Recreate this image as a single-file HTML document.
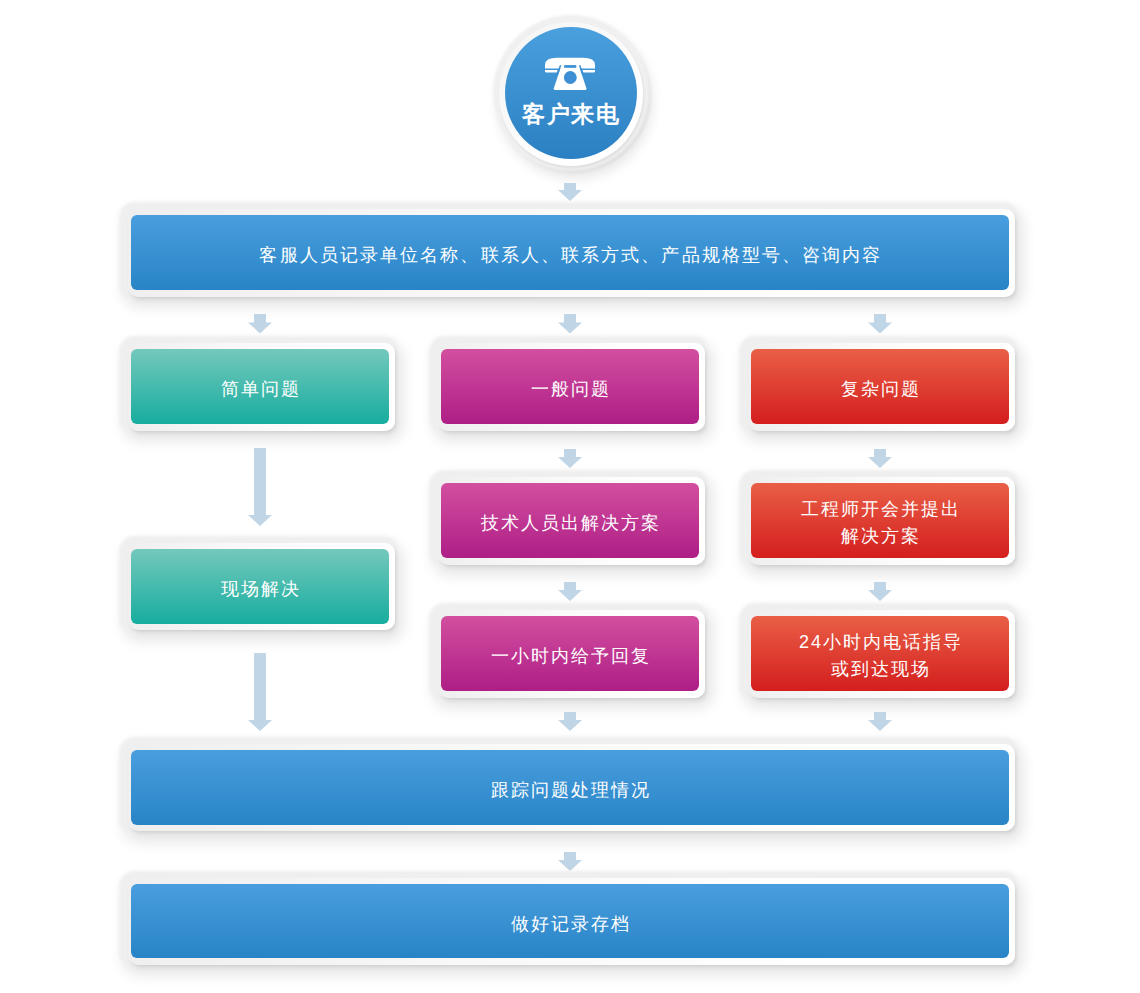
<!DOCTYPE html>
<html><head><meta charset="utf-8"><style>
html,body{margin:0;padding:0;background:#fff;}
body{width:1140px;height:993px;position:relative;overflow:hidden;font-family:"Liberation Sans",sans-serif;}
.halo{position:absolute;border-radius:15px;background:#efefef;box-shadow:4px 7px 14px rgba(0,0,0,0.10);filter:blur(1.6px);}
.ring{position:absolute;border-radius:10px;box-shadow:2px 3px 4px -1px rgba(0,0,0,0.15);background:linear-gradient(to right,rgba(255,255,255,0) 0%,rgba(255,255,255,0.6) 40%,#fff 80%);}
.box{position:absolute;border-radius:6px;display:flex;align-items:center;justify-content:center;text-align:center;color:#fff;}
.box span{display:block;line-height:27.5px;}
.arr{position:absolute;}
.chalo{position:absolute;left:492.5px;top:14.5px;width:156px;height:156px;border-radius:50%;background:#f0f0f0;box-shadow:2px 2px 3px rgba(0,0,0,0.07),4px 8px 12px rgba(0,0,0,0.09);filter:blur(1px);}
.cring{position:absolute;left:499px;top:22px;width:144px;height:144px;border-radius:50%;background:linear-gradient(135deg,rgba(255,255,255,0.3) 0%,rgba(255,255,255,0.6) 40%,#fff 70%);box-shadow:1px 2px 3px rgba(0,0,0,0.08);}
.circ{position:absolute;left:504.7px;top:27px;width:132px;height:132px;border-radius:50%;background:linear-gradient(to bottom,#4a9fdd,#2b80c3);}
.phone{position:absolute;}
.ctext{position:absolute;left:500px;top:99.5px;width:142px;text-align:center;color:#fff;font-weight:bold;font-size:23px;letter-spacing:1.5px;line-height:28px;}
</style></head><body>
<div class="chalo"></div><div class="cring"></div><div class="circ"></div>
<svg class="phone" style="left:540px;top:52px" width="60" height="42" viewBox="540 52 60 42">
<path d="M545,68.6 V65 Q545,57.8 557,57.8 H583 Q595,57.8 595,65 V68.6 Z" fill="#fff"/>
<path d="M545,69.9 H557.4 V71.3 Q557.4,72.4 556.3,72.4 H546.1 Q545,72.4 545,71.3 Z" fill="#fff"/>
<path d="M582.6,69.9 H595 V71.3 Q595,72.4 593.9,72.4 H583.7 Q582.6,72.4 582.6,71.3 Z" fill="#fff"/>
<path d="M561.6,64.9 H578.6 L586.4,88.2 Q587,90 585.2,90 H555 Q553.2,90 553.8,88.2 Z" fill="#fff"/>
<path d="M560.6,65.2 L557.2,74.5 M579.6,65.2 L583,74.5" stroke="#3b8fd2" stroke-width="1.5" fill="none"/>
<rect x="564.2" y="65.1" width="12.1" height="2.7" fill="#3b8fd2"/>
<circle cx="570.3" cy="77.5" r="6.4" fill="#3b8fd2"/>
</svg>
<div class="ctext">客户来电</div>
<svg class="arr" style="left:558.0px;top:183px" width="24" height="18" viewBox="0 0 24 18"><path d="M6.0,0 H18.0 V7 H24 L12.0,18 L0,7 H6.0 Z" fill="#c0d5e6"/></svg>
<div class="halo" style="left:119px;top:202px;width:900px;height:98px"></div>
<div class="ring" style="left:128px;top:209px;width:887px;height:87.5px"></div>
<div class="box" style="left:131px;top:215px;width:878px;height:75px;background:linear-gradient(to bottom,#499ede,#2884c6)"><span style="font-size:18px;letter-spacing:2.1px;margin-right:-2.1px;padding-top:7px">客服人员记录单位名称、联系人、联系方式、产品规格型号、咨询内容</span></div>
<svg class="arr" style="left:248.0px;top:313.5px" width="24" height="19.5" viewBox="0 0 24 19.5"><path d="M6.0,0 H18.0 V8.5 H24 L12.0,19.5 L0,8.5 H6.0 Z" fill="#c0d5e6"/></svg>
<svg class="arr" style="left:558.0px;top:313.5px" width="24" height="19.5" viewBox="0 0 24 19.5"><path d="M6.0,0 H18.0 V8.5 H24 L12.0,19.5 L0,8.5 H6.0 Z" fill="#c0d5e6"/></svg>
<svg class="arr" style="left:868.0px;top:313.5px" width="24" height="19.5" viewBox="0 0 24 19.5"><path d="M6.0,0 H18.0 V8.5 H24 L12.0,19.5 L0,8.5 H6.0 Z" fill="#c0d5e6"/></svg>
<div class="halo" style="left:119px;top:336px;width:280px;height:98px"></div>
<div class="ring" style="left:128px;top:343px;width:267px;height:87.5px"></div>
<div class="box" style="left:131px;top:349px;width:258px;height:75px;background:linear-gradient(to bottom,#74c8bc,#16ad9f)"><span style="font-size:18px;letter-spacing:2px;margin-right:-2px;padding-top:7px">简单问题</span></div>
<div class="halo" style="left:429px;top:336px;width:280px;height:98px"></div>
<div class="ring" style="left:438px;top:343px;width:267px;height:87.5px"></div>
<div class="box" style="left:441px;top:349px;width:258px;height:75px;background:linear-gradient(to bottom,#d24f9f,#ae1e86)"><span style="font-size:18px;letter-spacing:2px;margin-right:-2px;padding-top:7px">一般问题</span></div>
<div class="halo" style="left:739px;top:336px;width:280px;height:98px"></div>
<div class="ring" style="left:748px;top:343px;width:267px;height:87.5px"></div>
<div class="box" style="left:751px;top:349px;width:258px;height:75px;background:linear-gradient(to bottom,#e95f46,#d41e1e)"><span style="font-size:18px;letter-spacing:2px;margin-right:-2px;padding-top:7px">复杂问题</span></div>
<svg class="arr" style="left:248.0px;top:448px" width="24" height="78" viewBox="0 0 24 78"><path d="M6.0,0 H18.0 V67 H24 L12.0,78 L0,67 H6.0 Z" fill="#c0d5e6"/></svg>
<svg class="arr" style="left:558.0px;top:449px" width="24" height="19" viewBox="0 0 24 19"><path d="M6.0,0 H18.0 V8 H24 L12.0,19 L0,8 H6.0 Z" fill="#c0d5e6"/></svg>
<svg class="arr" style="left:868.0px;top:449px" width="24" height="19" viewBox="0 0 24 19"><path d="M6.0,0 H18.0 V8 H24 L12.0,19 L0,8 H6.0 Z" fill="#c0d5e6"/></svg>
<div class="halo" style="left:119px;top:535.6px;width:280px;height:98px"></div>
<div class="ring" style="left:128px;top:542.6px;width:267px;height:87.5px"></div>
<div class="box" style="left:131px;top:548.6px;width:258px;height:75px;background:linear-gradient(to bottom,#74c8bc,#16ad9f)"><span style="font-size:18px;letter-spacing:2px;margin-right:-2px;padding-top:7px">现场解决</span></div>
<div class="halo" style="left:429px;top:469.5px;width:280px;height:98.5px"></div>
<div class="ring" style="left:438px;top:476.5px;width:267px;height:88.0px"></div>
<div class="box" style="left:441px;top:482.5px;width:258px;height:75.5px;background:linear-gradient(to bottom,#d24f9f,#ae1e86)"><span style="font-size:18px;letter-spacing:2px;margin-right:-2px;padding-top:7px">技术人员出解决方案</span></div>
<div class="halo" style="left:739px;top:469.5px;width:280px;height:98.5px"></div>
<div class="ring" style="left:748px;top:476.5px;width:267px;height:88.0px"></div>
<div class="box" style="left:751px;top:482.5px;width:258px;height:75.5px;background:linear-gradient(to bottom,#e95f46,#d41e1e)"><span style="font-size:18px;letter-spacing:2px;margin-right:-2px;padding-top:5.5px">工程师开会并提出<br>解决方案</span></div>
<svg class="arr" style="left:558.0px;top:582px" width="24" height="19" viewBox="0 0 24 19"><path d="M6.0,0 H18.0 V8 H24 L12.0,19 L0,8 H6.0 Z" fill="#c0d5e6"/></svg>
<svg class="arr" style="left:868.0px;top:582px" width="24" height="19" viewBox="0 0 24 19"><path d="M6.0,0 H18.0 V8 H24 L12.0,19 L0,8 H6.0 Z" fill="#c0d5e6"/></svg>
<div class="halo" style="left:429px;top:603px;width:280px;height:98px"></div>
<div class="ring" style="left:438px;top:610px;width:267px;height:87.5px"></div>
<div class="box" style="left:441px;top:616px;width:258px;height:75px;background:linear-gradient(to bottom,#d24f9f,#ae1e86)"><span style="font-size:18px;letter-spacing:2px;margin-right:-2px;padding-top:7px">一小时内给予回复</span></div>
<div class="halo" style="left:739px;top:603px;width:280px;height:98px"></div>
<div class="ring" style="left:748px;top:610px;width:267px;height:87.5px"></div>
<div class="box" style="left:751px;top:616px;width:258px;height:75px;background:linear-gradient(to bottom,#e95f46,#d41e1e)"><span style="font-size:18px;letter-spacing:2px;margin-right:-2px;padding-top:5.5px">24小时内电话指导<br>或到达现场</span></div>
<svg class="arr" style="left:248.0px;top:653px" width="24" height="78" viewBox="0 0 24 78"><path d="M6.0,0 H18.0 V67 H24 L12.0,78 L0,67 H6.0 Z" fill="#c0d5e6"/></svg>
<svg class="arr" style="left:558.0px;top:712px" width="24" height="19" viewBox="0 0 24 19"><path d="M6.0,0 H18.0 V8 H24 L12.0,19 L0,8 H6.0 Z" fill="#c0d5e6"/></svg>
<svg class="arr" style="left:868.0px;top:712px" width="24" height="19" viewBox="0 0 24 19"><path d="M6.0,0 H18.0 V8 H24 L12.0,19 L0,8 H6.0 Z" fill="#c0d5e6"/></svg>
<div class="halo" style="left:119px;top:737px;width:900px;height:97.5px"></div>
<div class="ring" style="left:128px;top:744px;width:887px;height:87.0px"></div>
<div class="box" style="left:131px;top:750px;width:878px;height:74.5px;background:linear-gradient(to bottom,#499ede,#2884c6)"><span style="font-size:18px;letter-spacing:2px;margin-right:-2px;padding-top:7px">跟踪问题处理情况</span></div>
<svg class="arr" style="left:558.0px;top:851.7px" width="24" height="18.899999999999977" viewBox="0 0 24 18.899999999999977"><path d="M6.0,0 H18.0 V7.899999999999977 H24 L12.0,18.899999999999977 L0,7.899999999999977 H6.0 Z" fill="#c0d5e6"/></svg>
<div class="halo" style="left:119px;top:870.7px;width:900px;height:97.5px"></div>
<div class="ring" style="left:128px;top:877.7px;width:887px;height:87.0px"></div>
<div class="box" style="left:131px;top:883.7px;width:878px;height:74.5px;background:linear-gradient(to bottom,#499ede,#2884c6)"><span style="font-size:18px;letter-spacing:2px;margin-right:-2px;padding-top:7px">做好记录存档</span></div>
</body></html>
